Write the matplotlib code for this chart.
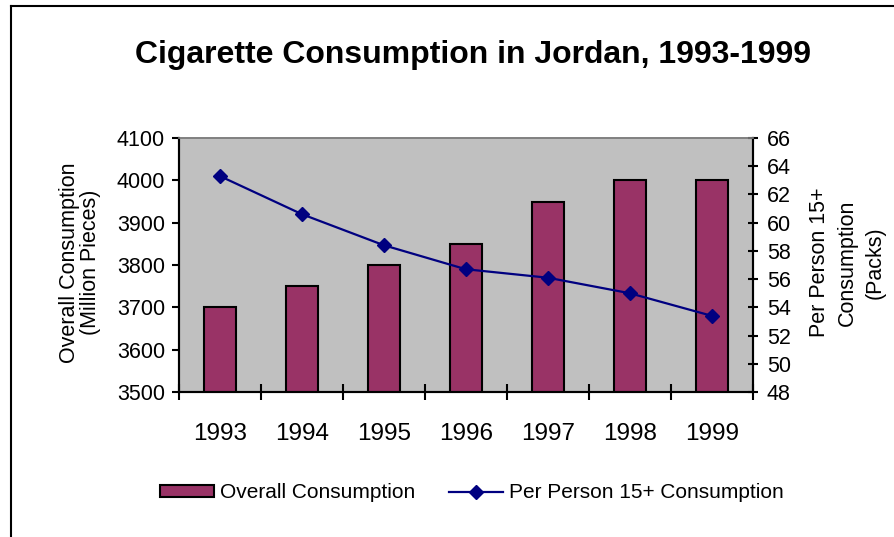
import numpy as np
import matplotlib
matplotlib.use("Agg")
import matplotlib.pyplot as plt
from matplotlib.lines import Line2D

plt.rcParams['font.family'] = ['Liberation Sans', 'DejaVu Sans']

# data
years = ['1993', '1994', '1995', '1996', '1997', '1998', '1999']
overall = [3700, 3750, 3800, 3850, 3950, 4000, 4000]          # million pieces
per_person = [63.3, 60.6, 58.4, 56.7, 56.1, 55.0, 53.4]       # packs
left_ticks = [3500, 3600, 3700, 3800, 3900, 4000, 4100]
right_ticks = [48, 50, 52, 54, 56, 58, 60, 62, 64, 66]

bar_color = '#993366'
line_color = '#000080'

fig = plt.figure(figsize=(8.95, 5.37), dpi=100)
ax = fig.add_axes([0.2, 0.27, 0.641, 0.473])
ax.set_facecolor('#C0C0C0')

x = np.arange(len(years))
ax.bar(x, overall, width=0.39, color=bar_color, edgecolor='black',
       linewidth=1.5, bottom=0, zorder=2, label='Overall Consumption')
ax.set_ylim(3500, 4100)
ax.set_yticks(left_ticks)
ax.set_xlim(-0.5, len(years) - 0.5)

# category boundaries as major ticks, labels at centres
ax.set_xticks(np.arange(-0.5, len(years), 1.0))
ax.set_xticklabels([])
ax.set_xticks(x, minor=True)
ax.set_xticklabels(years, minor=True, fontsize=17.5)
ax.tick_params(axis='x', which='major', direction='inout', length=12, width=1.5)
ax.tick_params(axis='x', which='minor', length=0, pad=22)
ax.tick_params(axis='y', direction='out', length=5, width=1.5, labelsize=15.5, pad=5)

ax2 = ax.twinx()
ax2.plot(x, per_person, color=line_color, lw=1.6, marker='D', markersize=7,
         label='Per Person 15+ Consumption', zorder=3)
ax2.set_ylim(48, 66)
ax2.set_yticks(right_ticks)
ax2.tick_params(axis='y', direction='inout', length=6.5, width=1.5, labelsize=15.5, pad=7)

for a in (ax, ax2):
    a.spines['top'].set_color('#808080')
    a.spines['top'].set_linewidth(1.2)
    for s in ('left', 'right', 'bottom'):
        a.spines[s].set_linewidth(1.5)

ax.set_ylabel('Overall Consumption\n(Million Pieces)', fontsize=15.5, linespacing=1.0,
              va='center', ha='center')
ax.yaxis.set_label_coords(-0.172, 0.51)
ax2.set_ylabel('Per Person 15+\nConsumption\n(Packs)', fontsize=15.5, linespacing=1.4,
               rotation=90, va='center', ha='center')
ax2.yaxis.set_label_coords(1.165, 0.51)

fig.text(0.528, 0.898, 'Cigarette Consumption in Jordan, 1993-1999',
         fontsize=23, fontweight='bold', ha='center', va='center')

h1, l1 = ax.get_legend_handles_labels()
h2, l2 = ax2.get_legend_handles_labels()
fig.legend(h1 + h2, l1 + l2, loc='center', bbox_to_anchor=(0.527, 0.082), ncol=2,
           frameon=False, fontsize=15, handlelength=2.6, handleheight=0.5,
           handletextpad=0.3, columnspacing=1.6)

# chart border (only left and top edges visible in the reference)
fig.add_artist(Line2D([11 / 895, 11 / 895], [0, 1 - 6 / 537], color='black', lw=1.5,
                      transform=fig.transFigure))
fig.add_artist(Line2D([11 / 895, 1], [1 - 6 / 537, 1 - 6 / 537], color='black', lw=1.5,
                      transform=fig.transFigure))

fig.savefig('out.png', dpi=100)
